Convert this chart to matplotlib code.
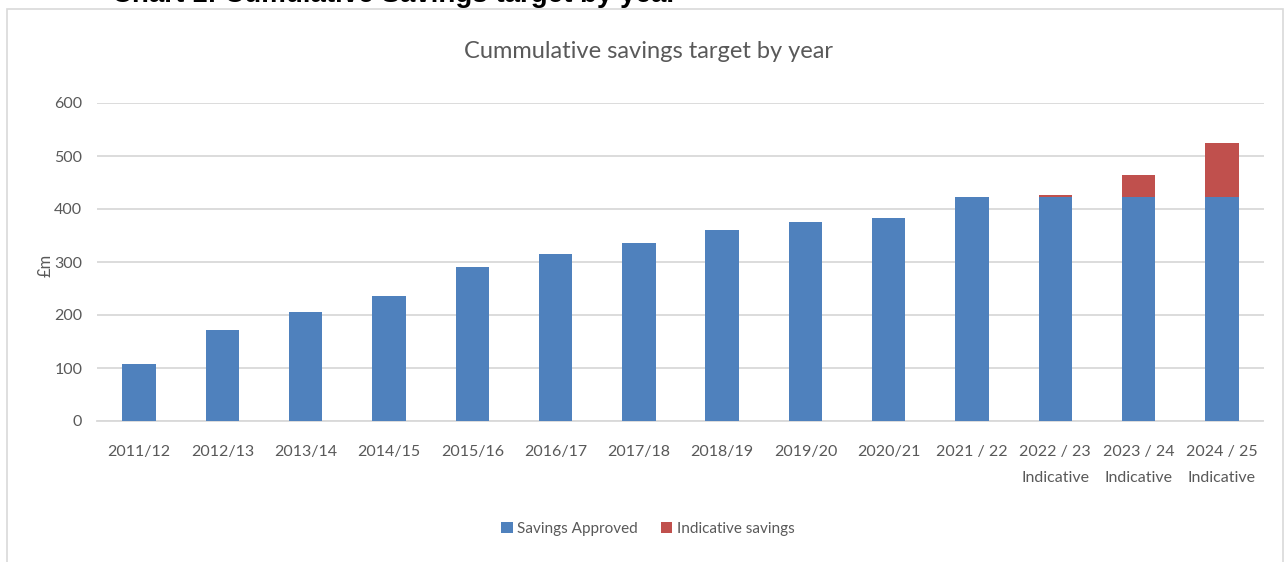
import matplotlib
matplotlib.use("Agg")
import matplotlib.pyplot as plt
import numpy as np
from matplotlib.patches import Rectangle, Patch

# ── Data (£m, cumulative) ────────────────────────────────────────────────────
years = ["2011/12", "2012/13", "2013/14", "2014/15", "2015/16", "2016/17",
         "2017/18", "2018/19", "2019/20", "2020/21", "2021 / 22",
         "2022 / 23\nIndicative", "2023 / 24\nIndicative", "2024 / 25\nIndicative"]
approved = [108, 171, 205, 235, 291, 316, 335, 361, 376, 383, 423, 423, 423, 423]
indicative = [0, 0, 0, 0, 0, 0, 0, 0, 0, 0, 0, 4, 41, 101]
yticks = [0, 100, 200, 300, 400, 500, 600]

BLUE = "#4F81BD"
RED = "#C0504D"
GREY_TXT = "#595959"
GRID = "#D9D9D9"
FONT = ["Lato", "DejaVu Sans"]

fig = plt.figure(figsize=(12.85, 5.62), dpi=100)
fig.patch.set_facecolor("white")

# chart frame
fig.add_artist(Rectangle((7 / 1285, -0.05), 1276 / 1285, 1.05 - 9 / 562,
                         transform=fig.transFigure, fill=False,
                         edgecolor=GRID, lw=1.2))

# document heading, mostly above the visible area
fig.text(112 / 1285, 1 - 1.5 / 562, "Chart 1: Cumulative Savings target by year",
         ha="left", va="baseline", fontsize=20, fontweight="bold",
         family=["Liberation Sans", "DejaVu Sans"], color="black")

ax = fig.add_axes([97.5 / 1285, (562 - 421) / 562, 1166 / 1285, 318 / 562])
x = np.arange(len(years))
ax.bar(x, approved, width=0.4, color=BLUE, lw=0, zorder=3,
       label="Savings Approved")
ax.bar(x, indicative, width=0.4, bottom=approved, color=RED, lw=0, zorder=3,
       label="Indicative savings")

ax.set_xlim(-0.5, len(years) - 0.5)
ax.set_ylim(0, 600)
ax.set_yticks(yticks)
ax.set_xticks(x)
ax.set_xticklabels(years, linespacing=2.1)
ax.yaxis.grid(True, color=GRID, lw=1.3, zorder=0)
for s in ["top", "right", "left"]:
    ax.spines[s].set_visible(False)
ax.spines["bottom"].set_color(GRID)
ax.spines["bottom"].set_linewidth(1.3)
ax.tick_params(length=0, labelsize=11.5, colors=GREY_TXT)
ax.tick_params(axis="x", pad=17)
ax.tick_params(axis="y", pad=11)
for lbl in ax.get_xticklabels() + ax.get_yticklabels():
    lbl.set_family(FONT)

ax.set_ylabel("£m", fontsize=12, color=GREY_TXT, family=FONT)
ax.yaxis.set_label_coords(-0.038, 0.49)

fig.text(648 / 1285, 1 - 52 / 562, "Cummulative savings target by year",
         ha="center", va="center", fontsize=17, color=GREY_TXT, family=FONT)

handles = [Patch(facecolor=BLUE, label="Savings Approved"),
           Patch(facecolor=RED, label="Indicative savings")]
fig.legend(handles=handles, loc="center", bbox_to_anchor=(648 / 1285, 1 - 529 / 562),
           ncol=2, frameon=False, handlelength=0.75, handleheight=0.75,
           handletextpad=0.3, columnspacing=1.5,
           prop={"family": FONT, "size": 11}, labelcolor=GREY_TXT)

fig.savefig("out.png", dpi=100, facecolor="white")
